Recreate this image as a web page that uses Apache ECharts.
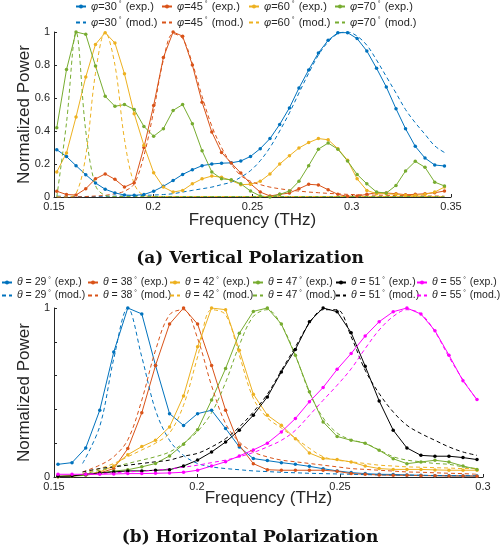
<!DOCTYPE html>
<html><head><meta charset="utf-8">
<script src="https://cdn.jsdelivr.net/npm/echarts@6/dist/echarts.min.js"></script>
<style>html,body{margin:0;padding:0;background:#fff}#c{width:500px;height:552px}</style>
</head><body><div id="c"></div>
<script>
// ---------- Top panel (Vertical polarization) ----------
const freqTop = [0.1514,0.1563,0.1611,0.1660,0.1709,0.1758,0.1807,0.1855,0.1904,0.1953,0.2002,0.2051,0.2100,0.2148,0.2197,0.2246,0.2295,0.2344,0.2393,0.2441,0.2490,0.2539,0.2588,0.2637,0.2686,0.2734,0.2783,0.2832,0.2881,0.2930,0.2979,0.3027,0.3076,0.3125,0.3174,0.3223,0.3271,0.3320,0.3369,0.3418,0.3467];
const topAngles = ['30','45','60','70'];
const expPhi30 = [0.287,0.245,0.19,0.135,0.085,0.047,0.025,0.012,0.01,0.015,0.035,0.065,0.10,0.137,0.165,0.19,0.2,0.205,0.207,0.218,0.246,0.293,0.354,0.44,0.54,0.66,0.77,0.873,0.95,0.996,0.996,0.96,0.885,0.78,0.667,0.535,0.414,0.307,0.236,0.194,0.188];
const expPhi45 = [0.035,0.015,0.012,0.05,0.11,0.14,0.107,0.06,0.087,0.30,0.555,0.845,1.0,0.975,0.80,0.575,0.394,0.27,0.206,0.145,0.08,0.03,0.006,0.016,0.024,0.05,0.077,0.073,0.044,0.016,0.004,0.006,0.016,0.026,0.024,0.02,0.014,0.016,0.02,0.026,0.036];
const expPhi60 = [0.152,0.267,0.485,0.727,0.925,0.996,0.933,0.747,0.505,0.313,0.147,0.06,0.03,0.04,0.08,0.11,0.127,0.12,0.1,0.075,0.077,0.095,0.14,0.2,0.25,0.297,0.33,0.354,0.347,0.293,0.222,0.11,0.04,0.02,0.02,0.016,0.01,0.01,0.016,0.03,0.06];
const expPhi70 = [0.42,0.772,1.0,0.986,0.794,0.61,0.55,0.56,0.53,0.428,0.368,0.414,0.525,0.56,0.444,0.28,0.152,0.11,0.105,0.08,0.036,0.006,0.0,0.016,0.036,0.095,0.19,0.29,0.327,0.29,0.218,0.137,0.08,0.03,0.024,0.07,0.158,0.216,0.18,0.09,0.067];
const modPhi30 = [0.005,0.004,0.003,0.003,0.003,0.004,0.005,0.006,0.008,0.01,0.012,0.015,0.02,0.03,0.04,0.05,0.06,0.075,0.09,0.12,0.16,0.22,0.3,0.4,0.51,0.63,0.75,0.86,0.94,0.99,1.0,0.975,0.92,0.83,0.73,0.63,0.53,0.45,0.38,0.31,0.27];
const modPhi45 = [0,0,0,0.003,0.006,0.01,0.02,0.035,0.08,0.25,0.52,0.83,0.99,0.96,0.81,0.61,0.43,0.3,0.2,0.13,0.095,0.075,0.06,0.05,0.042,0.036,0.03,0.026,0.022,0.019,0.016,0.014,0.012,0.011,0.01,0.009,0.008,0.007,0.006,0.006,0.005];
const modPhi60 = [0,0,0.02,0.25,0.75,1.0,0.8,0.35,0.08,0.01,0.003,0.003,0.003,0.003,0.003,0.003,0.003,0.003,0.003,0.003,0.003,0.003,0.003,0.003,0.003,0.003,0.003,0.003,0.003,0.003,0.003,0.003,0.003,0.003,0.003,0.003,0.003,0.003,0.003,0.003,0.003];
const modPhi70 = [0.0,0.45,1.0,0.4,0.07,0.01,0.003,0.003,0.003,0.003,0.003,0.003,0.003,0.003,0.003,0.003,0.003,0.003,0.003,0.003,0.003,0.003,0.003,0.003,0.003,0.003,0.003,0.003,0.003,0.003,0.003,0.003,0.003,0.003,0.003,0.003,0.003,0.003,0.003,0.003,0.003];

// ---------- Bottom panel (Horizontal polarization) ----------
const freqBot = [0.1514,0.1563,0.1611,0.1660,0.1709,0.1758,0.1807,0.1855,0.1904,0.1953,0.2002,0.2051,0.2100,0.2148,0.2197,0.2246,0.2295,0.2344,0.2393,0.2441,0.2490,0.2539,0.2588,0.2637,0.2686,0.2734,0.2783,0.2832,0.2881,0.2930,0.2979];
const freqModBot = [0.1600,0.1660,0.1709,0.1758,0.1807,0.1855,0.1904,0.1953,0.2002,0.2051,0.2100,0.2148,0.2197,0.2246,0.2295,0.2344,0.2393,0.2441,0.2490,0.2539,0.2588,0.2637,0.2686,0.2734,0.2783,0.2832,0.2881,0.2930,0.2979];
const botAngles = ['29','38','42','47','51','55'];
const expTh29 = [0.075,0.085,0.172,0.395,0.74,1.0,0.965,0.66,0.375,0.305,0.375,0.395,0.287,0.178,0.109,0.097,0.085,0.075,0.063,0.049,0.036,0.026,0.02,0.016,0.015,0.012,0.01,0.008,0.008,0.006,0.006];
const expTh38 = [0.004,0.006,0.014,0.024,0.05,0.168,0.38,0.66,0.905,1.0,0.905,0.66,0.395,0.188,0.079,0.043,0.04,0.04,0.04,0.04,0.034,0.02,0.016,0.012,0.01,0.01,0.008,0.008,0.006,0.006,0.005];
const expTh42 = [0.002,0.006,0.014,0.03,0.065,0.132,0.18,0.217,0.296,0.48,0.77,1.0,0.99,0.75,0.49,0.366,0.306,0.227,0.142,0.109,0.103,0.089,0.065,0.05,0.045,0.045,0.045,0.042,0.04,0.04,0.04];
const expTh47 = [0.002,0.005,0.01,0.024,0.035,0.043,0.06,0.08,0.125,0.194,0.28,0.455,0.642,0.85,0.98,1.0,0.905,0.72,0.504,0.326,0.24,0.217,0.2,0.158,0.108,0.079,0.089,0.099,0.089,0.065,0.045];
const expTh51 = [0.004,0.006,0.016,0.024,0.03,0.036,0.036,0.04,0.043,0.065,0.1,0.148,0.207,0.277,0.366,0.474,0.622,0.755,0.919,1.0,0.978,0.854,0.656,0.45,0.277,0.172,0.128,0.123,0.123,0.115,0.103];
const expTh55 = [0.016,0.016,0.016,0.016,0.018,0.02,0.02,0.022,0.024,0.028,0.04,0.065,0.09,0.125,0.16,0.2,0.267,0.346,0.445,0.53,0.637,0.731,0.834,0.919,0.978,1.0,0.964,0.866,0.721,0.569,0.458];
const modTh29 = [0.08,0.3,0.70,1.0,0.71,0.395,0.217,0.128,0.08,0.06,0.05,0.043,0.036,0.032,0.028,0.025,0.022,0.02,0.018,0.016,0.014,0.013,0.012,0.011,0.01,0.009,0.008,0.008,0.007];
const modTh38 = [0.03,0.07,0.12,0.22,0.455,0.75,0.96,0.99,0.82,0.54,0.316,0.207,0.148,0.119,0.10,0.09,0.08,0.07,0.06,0.05,0.045,0.04,0.035,0.03,0.028,0.025,0.022,0.02,0.016];
const modTh42 = [0.02,0.05,0.08,0.12,0.16,0.2,0.26,0.425,0.71,0.99,0.96,0.72,0.465,0.35,0.29,0.23,0.17,0.12,0.1,0.09,0.08,0.07,0.065,0.06,0.058,0.055,0.053,0.05,0.05];
const modTh47 = [0.016,0.04,0.06,0.08,0.1,0.12,0.148,0.2,0.27,0.38,0.56,0.78,0.95,0.99,0.9,0.72,0.5,0.35,0.26,0.22,0.2,0.16,0.12,0.1,0.09,0.08,0.075,0.06,0.05];
const modTh51 = [0.03,0.05,0.06,0.07,0.08,0.09,0.1,0.123,0.14,0.178,0.227,0.296,0.385,0.49,0.63,0.77,0.91,0.99,0.99,0.83,0.632,0.494,0.385,0.306,0.257,0.217,0.178,0.148,0.128];
const modTh55 = [0.016,0.02,0.025,0.03,0.035,0.04,0.048,0.058,0.07,0.085,0.1,0.12,0.145,0.178,0.217,0.276,0.365,0.454,0.543,0.64,0.76,0.87,0.95,0.99,0.965,0.86,0.71,0.575,0.455];

// ---------- styling ----------
const FONT = '"Liberation Sans", Arial, Helvetica, sans-serif';
const AX = '#262626';
const topColors = ['#0072BD','#D95319','#EDB120','#77AC30'];
const botColors = ['#0072BD','#D95319','#EDB120','#77AC30','#000000','#FF00FF'];

const topExp = [expPhi30, expPhi45, expPhi60, expPhi70];
const topMod = [modPhi30, modPhi45, modPhi60, modPhi70];
const botExp = [expTh29, expTh38, expTh42, expTh47, expTh51, expTh55];
const botMod = [modTh29, modTh38, modTh42, modTh47, modTh51, modTh55];

const topName = (a, kind) => 'φ=' + a + '° (' + kind + '.)';
const botName = (a, kind) => 'θ = ' + a + '° (' + kind + '.)';

function expSeries(name, color, xs, ys, idx) {
  return {
    name, type: 'line', xAxisIndex: idx, yAxisIndex: idx,
    data: xs.map((x, i) => [x, ys[i]]),
    symbol: 'circle', symbolSize: 3.5, showSymbol: true,
    lineStyle: { width: 1, color }, itemStyle: { color },
    emphasis: { disabled: true }, animation: false, clip: true
  };
}
function modSeries(name, color, xs, ys, idx) {
  return {
    name, type: 'line', xAxisIndex: idx, yAxisIndex: idx,
    data: xs.map((x, i) => [x, ys[i]]),
    symbol: 'none', showSymbol: false, smooth: 0.35,
    lineStyle: { width: 1, color, type: [4, 3] }, itemStyle: { color },
    emphasis: { disabled: true }, animation: false, clip: true
  };
}

const series = [];
topAngles.forEach((a, i) => series.push(expSeries(topName(a, 'exp'), topColors[i], freqTop, topExp[i], 0)));
topAngles.forEach((a, i) => series.push(modSeries(topName(a, 'mod'), topColors[i], freqTop, topMod[i], 0)));
botAngles.forEach((a, i) => series.push(expSeries(botName(a, 'exp'), botColors[i], freqBot, botExp[i], 1)));
botAngles.forEach((a, i) => series.push(modSeries(botName(a, 'mod'), botColors[i], freqModBot, botMod[i], 1)));

function fmt(name) {
  return name.replace(/^([φθ])/, '{i|$1}').replace('°', '{s|°}');
}
function mkLegend(name, left, top, fs, dashed) {
  const lg = {
    data: [name], left, top, padding: 0, itemGap: 0,
    itemWidth: 10, itemHeight: 5, selectedMode: false,
    formatter: fmt,
    textStyle: {
      fontFamily: FONT, fontSize: fs, color: AX,
      rich: {
        i: { fontStyle: 'italic', fontFamily: FONT, fontSize: fs, color: AX },
        s: { fontFamily: FONT, fontSize: fs - 4, color: AX, verticalAlign: 'top', padding: [0, 1, 0, 2] }
      }
    }
  };
  if (dashed) lg.itemStyle = { opacity: 0 };
  return lg;
}
const legends = [];
const topLegX = [75, 161, 248, 334];
topAngles.forEach((a, i) => { legends.push(mkLegend(topName(a, 'exp'), topLegX[i], 1, 11, false)); legends.push(mkLegend(topName(a, 'mod'), topLegX[i], 17, 11, true)); });
const botLegX = [1, 87, 169, 252, 335, 416];
botAngles.forEach((a, i) => { legends.push(mkLegend(botName(a, 'exp'), botLegX[i], 277, 10.5, false)); legends.push(mkLegend(botName(a, 'mod'), botLegX[i], 290, 10.5, true)); });

function xAxisCfg(gi, min, max, gap) {
  return {
    gridIndex: gi, type: 'value', min, max, interval: 0.05,
    name: 'Frequency (THz)', nameLocation: 'middle', nameGap: gap, nameMoveOverlap: false,
    nameTextStyle: { fontFamily: FONT, fontSize: 17, color: AX },
    axisLine: { onZero: false, lineStyle: { color: AX, width: 1 } },
    axisTick: { inside: true, length: 3, lineStyle: { color: AX } },
    axisLabel: { margin: 4, fontFamily: FONT, fontSize: 11, color: AX, formatter: v => String(+v.toFixed(2)) },
    splitLine: { show: false }
  };
}
function yAxisCfg(gi, onlyEnds) {
  return {
    gridIndex: gi, type: 'value', min: 0, max: 1, interval: 0.2,
    name: 'Normalized Power', nameLocation: 'middle', nameGap: 21, nameMoveOverlap: false,
    nameTextStyle: { fontFamily: FONT, fontSize: 17, color: AX },
    axisLine: { show: true, onZero: false, lineStyle: { color: AX, width: 1 } },
    axisTick: { show: true, inside: true, length: 3, lineStyle: { color: AX } },
    axisLabel: { margin: 4, fontFamily: FONT, fontSize: 11, color: AX,
      formatter: v => { const r = +v.toFixed(1); if (onlyEnds && r !== 0 && r !== 1) return ''; return String(r); } },
    splitLine: { show: false }
  };
}

const option = {
  backgroundColor: '#ffffff',
  animation: false,
  grid: [
    { left: 54, right: 49, top: 32, height: 165 },
    { left: 54, right: 17, top: 308, height: 169 }
  ],
  xAxis: [xAxisCfg(0, 0.15, 0.35, 15), xAxisCfg(1, 0.15, 0.3, 13)],
  yAxis: [yAxisCfg(0, false), yAxisCfg(1, true)],
  legend: legends,
  series,
  graphic: [
    { type: 'text', left: 'center', top: 250, style: { text: '(a) Vertical Polarization', font: 'bold 17px "DejaVu Serif", serif', fill: '#111' } },
    { type: 'text', left: 'center', top: 529, style: { text: '(b) Horizontal Polarization', font: 'bold 17px "DejaVu Serif", serif', fill: '#111' } }
  ]
};
const chart = echarts.init(document.getElementById('c'), null, { renderer: 'canvas' });
chart.setOption(option);
</script>
</body></html>
